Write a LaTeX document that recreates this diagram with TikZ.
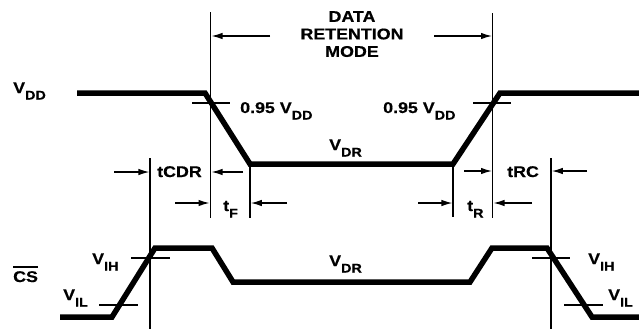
\documentclass[tikz,border=0pt]{standalone}
\usepackage{fontspec}
\setmainfont{Liberation Sans}[FakeStretch=1.15,FakeBold=0.6]
\usetikzlibrary{arrows.meta}
\newcommand\lbsub[1]{\raisebox{-6.5pt}{\fontsize{12.5}{13}\selectfont #1}}
\begin{document}
\begin{tikzpicture}[x=1pt,y=-1pt,
  sig/.style={line width=5.5pt},
  thinl/.style={line width=1.3pt},
  arr/.style={thinl,-{Latex[length=11pt,width=6.5pt]}},
  lbl/.style={inner sep=0pt, anchor=base west, font=\bfseries\fontsize{15.5}{17.5}\selectfont},
]
\useasboundingbox (0,0) rectangle (639,333);

% waveforms
\draw[sig] (77,93) -- (205,93) -- (250,164) -- (453,164) -- (500,93) -- (639,93);
\draw[sig] (60,317) -- (112,317) -- (155,248) -- (212,248) -- (233,282) -- (470,282) -- (492,248) -- (547,248) -- (592,317) -- (639,317);

% vertical reference lines
\coordinate (L1t) at (210.7,12);  \coordinate (L1b) at (210.7,218);
\coordinate (L2t) at (492.7,13);  \coordinate (L2b) at (492.7,218);
\coordinate (Fft) at (250,164);   \coordinate (Ffb) at (250,218);
\coordinate (Rrt) at (453,164);   \coordinate (Rrb) at (453,217);
\coordinate (L0t) at (150,158);   \coordinate (L0b) at (150,329);
\coordinate (L3t) at (551,158);   \coordinate (L3b) at (551,329);
\draw[thinl] (L1t) -- (L1b);
\draw[thinl] (L2t) -- (L2b);
\draw[thinl] (Fft) -- (Ffb);
\draw[thinl] (Rrt) -- (Rrb);
\draw[thinl] (L0t) -- (L0b);
\draw[thinl] (L3t) -- (L3b);

% ticks
\draw[thinl] (192,103) -- (230,103);
\draw[thinl] (473,103) -- (511,103);
\draw[thinl] (131,258) -- (170,258);
\draw[thinl] (99,305) -- (138,305);
\draw[thinl] (532,258) -- (570,258);
\draw[thinl] (564,305) -- (603,305);

% arrows
\draw[arr] (270,36) -- (211.5,36);
\draw[arr] (434,36) -- (492,36);
\draw[arr] (114,172) -- (149.4,172);
\draw[arr] (243,172) -- (211.5,172);
\draw[arr] (175,203) -- (209.5,203);
\draw[arr] (287,203) -- (250.8,203);
\draw[arr] (418,203) -- (452.4,203);
\draw[arr] (532,203) -- (493.5,203);
\draw[arr] (464,171) -- (492,171);
\draw[arr] (587,171) -- (551.8,171);

% labels
\node[lbl, anchor=north, align=center] (drm) at (352,11) {DATA\\RETENTION\\MODE};
\node[lbl] (vdd) at (13,93) {V\lbsub{DD}};
\node[lbl] (p95a) at (240,113) {0.95 V\lbsub{DD}};
\node[lbl] (p95b) at (383,113) {0.95 V\lbsub{DD}};
\node[lbl] (vdr1) at (329,150) {V\lbsub{DR}};
\node[lbl] (vdr2) at (329,266) {V\lbsub{DR}};
\node[lbl] (tcdr) at (157,177) {tCDR};
\node[lbl] (trc) at (507,177) {tRC};
\node[lbl] (tf) at (223,211) {t\lbsub{F}};
\node[lbl] (tr) at (467,211) {t\lbsub{R}};
\node[lbl] (vih1) at (92,264) {V\lbsub{IH}};
\node[lbl] (vil1) at (63,300) {V\lbsub{IL}};
\node[lbl] (vih2) at (588,264) {V\lbsub{IH}};
\node[lbl] (vil2) at (608,300) {V\lbsub{IL}};
\node[lbl] (cs) at (13,282) {CS};
\draw[line width=1.2pt] ([yshift=4pt]cs.north west) -- ([yshift=4pt]cs.north east);
\end{tikzpicture}
\end{document}
